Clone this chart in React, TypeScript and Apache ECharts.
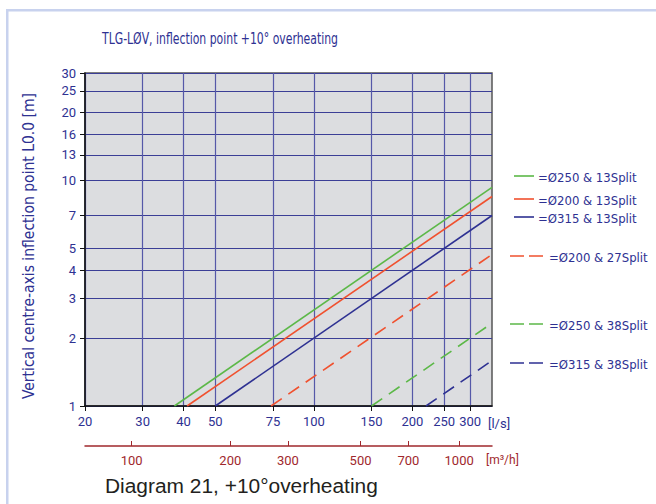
import React, { useEffect, useRef } from "react";
import * as echarts from "echarts";

// ---- data ----
const seriesNames = [
  "=Ø250 & 13Split",
  "=Ø200 & 13Split",
  "=Ø315 & 13Split",
  "=Ø200 & 27Split",
  "=Ø250 & 38Split",
  "=Ø315 & 38Split",
];
const seriesColors = ["#5cb848", "#f0512f", "#2e3192", "#f0512f", "#5cb848", "#2e3192"];
const seriesDashed = [false, false, false, true, true, true];
// flow [l/s] where each line starts at L = 1 m
const startFlow = [37.5, 41, 50, 74, 150, 220];
const startHeight = [1, 1, 1, 1, 1, 1];
// flow [l/s] at right edge and height there [m]
const endFlow = [350, 350, 350, 350, 350, 350];
const endHeight = [9.33, 8.5, 7.0, 4.7, 2.33, 1.59];

const flowTicks = [20, 30, 40, 50, 75, 100, 150, 200, 250, 300];
const volumeTicks = [100, 200, 300, 500, 700, 1000];
const heightTicks = [1, 2, 3, 4, 5, 7, 10, 13, 16, 20, 25, 30];

const legendY = [176, 199, 217, 256, 324, 363];

export default function App() {
  const ref = useRef<HTMLDivElement>(null);
  useEffect(() => {
    document.body.style.margin = "0";
    if (!ref.current) return;
    const chart = echarts.init(ref.current, null, { renderer: "svg" });
    const blue = "#2e3192";
    const dark = "#a0282d";
    const fmt = (v: number) => String(Math.round(v));
    const series = seriesNames.map((name, i) => ({
      name,
      type: "line",
      xAxisIndex: 0,
      yAxisIndex: 0,
      data: [
        [startFlow[i], startHeight[i]],
        [endFlow[i], endHeight[i]],
      ],
      symbol: "none",
      lineStyle: {
        color: seriesColors[i],
        width: 1.6,
        type: seriesDashed[i] ? [13, 8] : "solid",
      },
      z: 5,
    }));

    const legendFont = "13px 'Liberation Sans Narrow', 'DejaVu Sans Condensed', Roboto, sans-serif";
    const legendGraphics: any[] = [];
    seriesNames.forEach((name, i) => {
      const y = legendY[i];
      if (seriesDashed[i]) {
        legendGraphics.push({
          type: "line",
          shape: { x1: 510, y1: y, x2: 543, y2: y },
          style: { stroke: seriesColors[i], lineWidth: 1.6, lineDash: [14, 5] },
        });
        legendGraphics.push({
          type: "text",
          x: 549,
          y: y + 1,
          style: { text: name, fill: blue, font: legendFont, verticalAlign: "middle" },
        });
      } else {
        legendGraphics.push({
          type: "line",
          shape: { x1: 514, y1: y, x2: 534, y2: y },
          style: { stroke: seriesColors[i], lineWidth: 1.6 },
        });
        legendGraphics.push({
          type: "text",
          x: 538,
          y: y + 1,
          style: { text: name, fill: blue, font: legendFont, verticalAlign: "middle" },
        });
      }
    });

    chart.setOption({
      animation: false,
      backgroundColor: "#ffffff",
      grid: {
        left: 85,
        right: 164,
        top: 73,
        bottom: 98,
        show: true,
        backgroundColor: "#dcdde0",
        borderColor: "#555555",
        borderWidth: 1.5,
      },
      xAxis: [
        {
          type: "log",
          min: 20,
          max: 350,
          position: "bottom",
          axisLine: { show: true, onZero: false, lineStyle: { color: "#111111", width: 1.5 } },
          axisTick: { show: true, length: 5, customValues: flowTicks, lineStyle: { color: "#111111" } },
          axisLabel: { customValues: flowTicks, formatter: fmt, color: blue, fontSize: 13, margin: 9, fontFamily: "Roboto, sans-serif" },
          splitLine: { show: true, lineStyle: { color: "#5558a8", width: 1.2 } },
          minorTick: { show: false },
        },
        {
          type: "log",
          min: 72,
          max: 1260,
          position: "bottom",
          offset: 40,
          axisLine: { show: true, onZero: false, lineStyle: { color: dark, width: 1.5 } },
          axisTick: { show: true, inside: true, length: 5, customValues: volumeTicks, lineStyle: { color: dark } },
          axisLabel: { customValues: volumeTicks, formatter: fmt, color: dark, fontSize: 13, margin: 8, fontFamily: "Roboto, sans-serif" },
          splitLine: { show: false },
        },
      ],
      yAxis: {
        type: "log",
        min: 1,
        max: 30,
        axisLine: { show: true, onZero: false, lineStyle: { color: "#111111", width: 1.5 } },
        axisTick: { show: true, length: 5, customValues: heightTicks, lineStyle: { color: "#111111" } },
        axisLabel: { customValues: heightTicks, formatter: fmt, color: blue, fontSize: 13, margin: 9, fontFamily: "Roboto, sans-serif" },
        splitLine: { show: true, lineStyle: { color: "#3b3e96", width: 1 } },
      },
      series,
      graphic: [
        {
          type: "rect",
          shape: { x: 6, y: 9, width: 2.5, height: 495 },
          style: { fill: "#c8d2ee" },
        },
        {
          type: "rect",
          shape: { x: 6, y: 9, width: 650, height: 2.5 },
          style: { fill: "#c8d2ee" },
        },
        {
          type: "text",
          x: 220,
          y: 38,
          scaleX: 0.806,
          style: {
            text: "TLG-LØV, inflection point +10° overheating",
            fill: blue,
            font: "15px 'Liberation Sans Narrow', 'DejaVu Sans Condensed', Roboto, sans-serif",
            align: "center",
            verticalAlign: "middle",
          },
        },
        {
          type: "text",
          x: 29,
          y: 246,
          rotation: Math.PI / 2,
          style: {
            text: "Vertical centre-axis inflection point L0.0 [m]",
            fill: blue,
            font: "15.5px 'Liberation Sans Narrow', 'DejaVu Sans Condensed', Roboto, sans-serif",
            align: "center",
            verticalAlign: "middle",
          },
        },
        {
          type: "text",
          x: 488,
          y: 423,
          style: { text: "[l/s]", fill: blue, font: "13px Roboto, sans-serif", verticalAlign: "middle" },
        },
        {
          type: "text",
          x: 486,
          y: 460,
          style: { text: "[m³/h]", fill: dark, font: "12px Roboto, sans-serif", verticalAlign: "middle" },
        },
        {
          type: "text",
          x: 105,
          y: 486,
          scaleX: 1.046,
          style: {
            text: "Diagram 21, +10°overheating",
            fill: "#231f20",
            font: "20px 'Liberation Sans', Arial, sans-serif",
            verticalAlign: "middle",
          },
        },
        ...legendGraphics,
      ],
    });
    return () => chart.dispose();
  }, []);
  return <div ref={ref} style={{ width: 656, height: 504 }} />;
}
